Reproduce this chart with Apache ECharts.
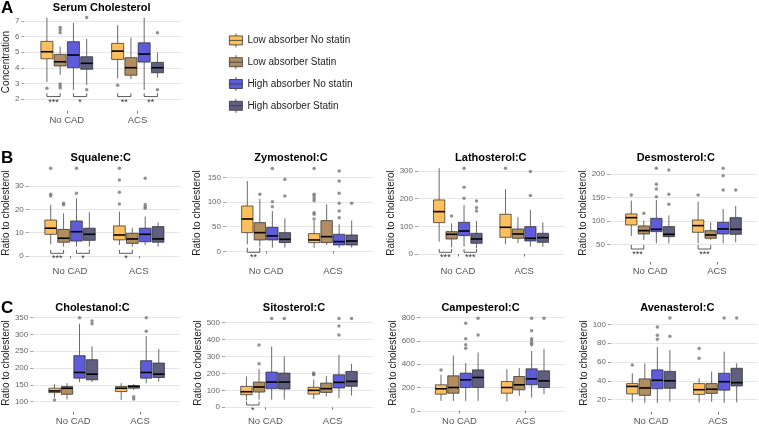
<!DOCTYPE html>
<html>
<head>
<meta charset="utf-8">
<script src="https://cdn.jsdelivr.net/npm/echarts@6/dist/echarts.min.js"></script>
<style>
  html, body { margin: 0; padding: 0; background: #fff; }
  #chart { width: 759px; height: 426px; }
</style>
</head>
<body>
<div id="chart"></div>
<script>
// ---- data ----
const groups = ['No CAD', 'ACS'];
const subgroups = ['Low absorber No statin', 'Low absorber Statin', 'High absorber No statin', 'High absorber Statin'];

// box stats: [lower whisker, Q1, median, Q3, upper whisker]
// first 4 rows = No CAD, last 4 rows = ACS (subgroup order as above)
const serumBox = [
  [3.1, 4.58, 5.03, 5.69, 7.21], [3.55, 4.12, 4.39, 4.86, 5.35], [2.6, 4.01, 4.82, 5.67, 6.87], [2.9, 3.91, 4.29, 4.71, 5.85],
  [3.33, 4.54, 5.07, 5.56, 6.72], [3.29, 3.53, 4.01, 4.65, 5.94], [2.6, 4.37, 4.88, 5.6, 7.21], [3.38, 3.69, 4.01, 4.35, 4.97]
];
// outliers: [group, subgroup, value]
const serumOut = [[0,0,2.7],[0,1,6.58],[0,1,6.41],[0,1,6.24],[0,1,2.97],[0,1,2.85],[0,1,2.72],[0,3,7.21],[0,3,2.6],[1,0,2.89],[1,3,6.24],[1,3,2.6]];
const serumTicks = [2, 3, 4, 5, 6, 7];
// significance: [group, pair (0 = low absorber, 1 = high absorber), label]
const serumSig = [[0,0,'***'],[0,1,'*'],[1,0,'**'],[1,1,'**']];

const squaleneBox = [
  [5.0, 9.3, 11.9, 15.4, 21.9], [4.0, 5.9, 7.6, 11.4, 18.3], [4.0, 6.4, 10.4, 15.0, 24.7], [4.0, 6.7, 9.3, 11.9, 18.7],
  [4.7, 6.9, 9.0, 12.9, 19.0], [4.0, 5.4, 7.3, 9.7, 12.1], [4.7, 6.1, 9.3, 11.9, 16.9], [4.0, 5.9, 7.3, 12.6, 14.4]
];
const squaleneOut = [[0,0,26.4],[0,0,25.7],[0,0,37.6],[0,1,22.6],[0,1,21.9],[0,2,26.9],[0,2,37.6],[1,0,37.6],[1,0,32.6],[1,0,27.3],[1,0,22.3],[1,2,33.3],[1,2,22.1],[1,2,21.1],[1,2,20.4]];
const squaleneTicks = [0, 10, 20, 30];
const squaleneSig = [[0,0,'***'],[0,1,'*'],[1,0,'*']];

const zymostenolBox = [
  [14.2, 37.8, 65.5, 91.9, 142.6], [9.5, 23.0, 37.8, 58.1, 106], [7.4, 23, 31.1, 48.6, 81.8], [7.4, 17.6, 24.3, 37.8, 66.9],
  [7.4, 17.6, 23, 35.8, 61.5], [12.8, 17.6, 29.7, 62.2, 95.3], [7.4, 12.8, 19.6, 34.5, 54.7], [7.4, 12.8, 20.9, 33.1, 62.2]
];
const zymostenolOut = [[0,1,115.5],[0,2,168],[0,2,100.7],[0,2,90.5],[0,3,146],[0,3,112],[1,0,168],[1,0,115.5],[1,0,112],[1,0,107],[1,0,102.7],[1,0,78.4],[1,0,75],[1,0,65.5],[1,2,162.8],[1,2,142.6],[1,2,117.6],[1,2,97.3],[1,2,81.8],[1,2,68.2],[1,3,97.3]];
const zymostenolTicks = [0, 50, 100, 150];
const zymostenolSig = [[0,0,'**']];

const lathosterolBox = [
  [44.6, 113.3, 153, 195.2, 309.7], [24.1, 54.2, 71.1, 80.7, 110.9], [26.5, 66.3, 83.1, 114.5, 177.1], [20.5, 38.6, 54.2, 74.7, 119.3],
  [35, 60.3, 96.4, 143.4, 233.8], [38.6, 56.6, 72.3, 90.4, 132.6], [26.5, 47, 56.6, 98.8, 159.1], [26.5, 42.2, 59, 74.7, 114.5]
];
const lathosterolOut = [[0,1,137.4],[0,2,309.7],[0,2,241],[0,2,201.2],[0,3,191.6],[0,3,167.5],[0,3,155.4],[1,0,309.7],[1,2,297.6],[1,2,210.9]];
const lathosterolTicks = [0, 100, 200, 300];
const lathosterolSig = [[0,0,'***'],[0,1,'***']];

const desmosterolBox = [
  [67.9, 91.4, 107.1, 115, 143.6], [59.3, 72.1, 79.3, 89.3, 100.7], [52.1, 77.1, 82.1, 105.7, 145], [52.1, 66.4, 71.4, 87.9, 112],
  [52.1, 75.7, 90, 102.1, 141.4], [59.3, 62.9, 70, 79.3, 97.1], [52.1, 72.1, 82.9, 97.1, 125.7], [54.3, 71.4, 82.1, 107.1, 132.1]
];
const desmosterolOut = [[0,0,155.7],[0,1,116.4],[0,2,212.9],[0,2,178.6],[0,2,168.6],[0,2,152],[0,3,209.3],[0,3,157.1],[0,3,135.7],[1,0,155.7],[1,2,212.9],[1,2,197.1],[1,2,166.4],[1,3,166.4]];
const desmosterolTicks = [50, 100, 150, 200];
const desmosterolSig = [[0,0,'***'],[1,0,'***']];

const cholestanolBox = [
  [112, 127, 132, 140, 152], [107, 122, 140, 145, 155], [158, 170, 187, 237, 332], [158, 165, 182, 225, 265],
  [105, 130, 140, 145, 155], [135, 140, 145, 148, 153], [155, 170, 187, 222, 295], [160, 172, 182, 215, 257]
];
const cholestanolOut = [[0,0,105],[0,2,350],[0,3,340],[0,3,332],[1,1,115],[1,1,108],[1,2,350],[1,2,310]];
const cholestanolTicks = [100, 150, 200, 250, 300, 350];
const cholestanolSig = [];

const sitosterolBox = [
  [40, 74.5, 92, 123.5, 182], [45, 90, 120, 149, 227], [45, 110, 149, 208, 359], [45, 108, 149, 202, 300],
  [49, 78, 100, 118, 163], [65, 88, 110, 143, 186], [55, 114, 147, 192, 310], [69, 124, 153, 212, 257]
];
const sitosterolOut = [[0,1,368],[0,1,257],[0,2,525],[0,3,525],[1,0,202],[1,0,196],[1,0,192],[1,2,525],[1,2,480],[1,2,427],[1,3,525]];
const sitosterolTicks = [0, 100, 200, 300, 400, 500];
const sitosterolSig = [[0,0,'*']];

const campesterolBox = [
  [85, 143, 189, 223, 309], [85, 151, 200, 300, 474], [85, 200, 266, 323, 409], [85, 200, 286, 351, 500],
  [80, 151, 200, 251, 357], [129, 180, 223, 294, 366], [114, 223, 274, 360, 514], [143, 200, 257, 343, 531]
];
const campesterolOut = [[0,0,351],[0,2,751],[0,2,617],[0,2,566],[0,2,537],[0,3,794],[0,3,651],[1,2,794],[1,2,686],[1,2,617],[1,2,600],[1,2,580],[1,2,566],[1,3,794]];
const campesterolTicks = [0, 200, 400, 600, 800];
const campesterolSig = [];

const avenasterolBox = [
  [17, 26, 34, 37, 48], [16.5, 24.5, 32.4, 42, 58.6], [16.5, 31.5, 40.5, 51.6, 76], [18, 32, 40, 50, 72.6],
  [17, 25.5, 30.5, 37, 42.8], [17.6, 26.6, 31, 37, 49.8], [16.5, 30, 39, 48, 70.9], [17, 34.5, 38, 53.3, 58.6]
];
const avenasterolOut = [[0,0,56.8],[0,2,97.2],[0,2,88.4],[0,2,84.2],[0,3,106.7],[0,3,87.4],[1,0,74.4],[1,0,63.9],[1,2,106.7],[1,3,106.7]];
const avenasterolTicks = [20, 40, 60, 80, 100];
const avenasterolSig = [];

const panels = [
  {title: 'Serum Cholesterol', yName: 'Concentration', box: serumBox, out: serumOut, ticks: serumTicks, sig: serumSig},
  {title: 'Squalene:C', yName: 'Ratio to cholesterol', box: squaleneBox, out: squaleneOut, ticks: squaleneTicks, sig: squaleneSig},
  {title: 'Zymostenol:C', yName: 'Ratio to cholesterol', box: zymostenolBox, out: zymostenolOut, ticks: zymostenolTicks, sig: zymostenolSig},
  {title: 'Lathosterol:C', yName: 'Ratio to cholesterol', box: lathosterolBox, out: lathosterolOut, ticks: lathosterolTicks, sig: lathosterolSig},
  {title: 'Desmosterol:C', yName: 'Ratio to cholesterol', box: desmosterolBox, out: desmosterolOut, ticks: desmosterolTicks, sig: desmosterolSig},
  {title: 'Cholestanol:C', yName: 'Ratio to cholesterol', box: cholestanolBox, out: cholestanolOut, ticks: cholestanolTicks, sig: cholestanolSig},
  {title: 'Sitosterol:C', yName: 'Ratio to cholesterol', box: sitosterolBox, out: sitosterolOut, ticks: sitosterolTicks, sig: sitosterolSig},
  {title: 'Campesterol:C', yName: 'Ratio to cholesterol', box: campesterolBox, out: campesterolOut, ticks: campesterolTicks, sig: campesterolSig},
  {title: 'Avenasterol:C', yName: 'Ratio to cholesterol', box: avenasterolBox, out: avenasterolOut, ticks: avenasterolTicks, sig: avenasterolSig}
];

// ---- layout / style ----
const layout = [
  {l: 24,  r: 180, t: 13,  b: 111, min: 1.25,  max: 7.5, gap: 10,   tx: 101.7, ty: 8,   sigY: [2.38, 2.17]},
  {l: 26,  r: 180, t: 164, b: 262, min: -2.57, max: 39.4, gap: 13.5, tx: 100.8, ty: 158, sigY: [2.6, 1.15]},
  {l: 226, r: 373, t: 164, b: 262, min: -21.7, max: 177, gap: 24,   tx: 291,   ty: 158, sigY: [7.3, -2]},
  {l: 418, r: 564, t: 164, b: 262, min: -28.9, max: 325, gap: 19,   tx: 490.8, ty: 158, sigY: [18, 6.1]},
  {l: 610, r: 757, t: 164, b: 262, min: 12.1,  max: 222, gap: 17,   tx: 675.8, ty: 158, sigY: [48.5, 39.9]},
  {l: 33,  r: 180, t: 314, b: 412, min: 69.3,  max: 361, gap: 20.7, tx: 92.5,  ty: 308, sigY: [0, 0]},
  {l: 225, r: 373, t: 314, b: 412, min: -27.8, max: 551, gap: 22,   tx: 294,   ty: 308, sigY: [33, 13.6]},
  {l: 420, r: 565, t: 314, b: 412, min: -10,   max: 830, gap: 19.5, tx: 480.5, ty: 308, sigY: [0, 0]},
  {l: 611, r: 758, t: 314, b: 412, min: 6.8,   max: 111, gap: 20.5, tx: 677.3, ty: 308, sigY: [0, 0]}
];
const fills = ['#FEC05F', '#B18D5F', '#5E5CD8', '#5F5F82'];
const FONT = 'Liberation Sans';
const DODGE = 0.1875;
const HALF = 0.085;

function xPos(g, s) { return g + 1 + (s - 1.5) * DODGE; }

function boxRender(params, api) {
  const x = xPos(api.value(0), api.value(1));
  const lo = api.value(2), q1 = api.value(3), md = api.value(4), q3 = api.value(5), hi = api.value(6);
  const tl = api.coord([x - HALF, q3]);
  const br = api.coord([x + HALF, q1]);
  const m = api.coord([x, md]);
  const top = api.coord([x, hi]);
  const bot = api.coord([x, lo]);
  const wStyle = {stroke: '#444', lineWidth: 0.8};
  return {
    type: 'group',
    children: [
      {type: 'line', shape: {x1: top[0], y1: top[1], x2: top[0], y2: tl[1]}, style: wStyle},
      {type: 'line', shape: {x1: bot[0], y1: br[1], x2: bot[0], y2: bot[1]}, style: wStyle},
      {type: 'rect', shape: {x: tl[0], y: tl[1], width: br[0] - tl[0], height: br[1] - tl[1]},
        style: {fill: api.visual('color'), stroke: 'rgba(40,40,40,0.8)', lineWidth: 0.9}},
      {type: 'line', shape: {x1: tl[0], y1: m[1], x2: br[0], y2: m[1]}, style: {stroke: '#000', lineWidth: 1.6}}
    ]
  };
}

function sigRender(panel, L) {
  return function (params, api) {
    const g = api.value(0), p = api.value(1);
    const x1 = xPos(g, 2 * p), x2 = xPos(g, 2 * p + 1);
    const a = api.coord([x1, L.sigY[0]]), b = api.coord([x1, L.sigY[1]]);
    const c = api.coord([x2, L.sigY[1]]), d = api.coord([x2, L.sigY[0]]);
    return {
      type: 'group',
      children: [
        {type: 'polyline', shape: {points: [a, b, c, d]}, style: {stroke: '#333', lineWidth: 0.8, fill: null}},
        {type: 'text', x: (b[0] + c[0]) / 2, y: b[1] + 1,
          style: {text: panel.sig[params.dataIndex][2], fontSize: 9, fontFamily: FONT, fill: '#333', align: 'center', verticalAlign: 'top'}}
      ]
    };
  };
}

const grid = [], xAxis = [], yAxis = [], series = [], graphic = [];

panels.forEach(function (panel, i) {
  const L = layout[i];
  grid.push({left: L.l, top: L.t, width: L.r - L.l, height: L.b - L.t});
  xAxis.push({
    gridIndex: i, type: 'value', min: 0.4, max: 2.6,
    axisLine: {show: false}, splitLine: {show: false},
    axisTick: {show: true, customValues: [1, 2], length: 2.5, lineStyle: {color: '#555', width: 0.8}},
    axisLabel: {customValues: [1, 2], formatter: function (v) { return groups[Math.round(v) - 1]; },
      fontSize: 9.5, color: '#555', margin: 4, fontFamily: FONT}
  });
  yAxis.push({
    gridIndex: i, type: 'value', min: L.min, max: L.max,
    name: panel.yName, nameLocation: 'middle', nameGap: L.gap,
    nameTextStyle: {fontSize: 10, color: '#222', fontFamily: FONT},
    axisLine: {show: false},
    axisTick: {show: true, customValues: panel.ticks, length: 3, lineStyle: {color: '#888', width: 0.8}},
    axisLabel: {customValues: panel.ticks, fontSize: 8, color: '#666', margin: 5, fontFamily: FONT},
    splitLine: {show: true, lineStyle: {color: '#e6e6e6', width: 1}}
  });
  subgroups.forEach(function (name, s) {
    series.push({
      name: name, type: 'custom', xAxisIndex: i, yAxisIndex: i,
      itemStyle: {color: fills[s]}, renderItem: boxRender, silent: true,
      data: [[0, s].concat(panel.box[s]), [1, s].concat(panel.box[4 + s])]
    });
  });
  series.push({
    name: 'outliers', type: 'scatter', xAxisIndex: i, yAxisIndex: i, silent: true,
    symbolSize: 3.5, itemStyle: {color: '#777'}, z: 5,
    data: panel.out.map(function (o) { return [xPos(o[0], o[1]), o[2]]; })
  });
  if (panel.sig.length) {
    series.push({
      name: 'sig', type: 'custom', xAxisIndex: i, yAxisIndex: i, silent: true,
      renderItem: sigRender(panel, L),
      data: panel.sig.map(function (d) { return [d[0], d[1]]; })
    });
  }
  graphic.push({type: 'text', x: L.tx, y: L.ty,
    style: {text: panel.title, fontSize: 11, fontWeight: 'bold', fontFamily: FONT, fill: '#000', align: 'center', verticalAlign: 'middle'}});
});

[['A', 8], ['B', 158], ['C', 308]].forEach(function (t) {
  graphic.push({type: 'text', x: 1, y: t[1],
    style: {text: t[0], fontSize: 17, fontWeight: 'bold', fontFamily: FONT, fill: '#000', align: 'left', verticalAlign: 'middle'}});
});

const boxIcon = 'path://M6.5,0L6.5,2.5M0,2.5L13,2.5L13,11.5L0,11.5ZM0,7L13,7M6.5,11.5L6.5,14';

const chart = echarts.init(document.getElementById('chart'));
chart.setOption({
  animation: false,
  backgroundColor: '#fff',
  textStyle: {fontFamily: FONT},
  legend: {
    left: 224, top: 28, orient: 'vertical', selectedMode: false,
    itemWidth: 13, itemHeight: 14, itemGap: 7,
    data: subgroups.map(function (n) { return {name: n, icon: boxIcon}; }),
    itemStyle: {borderColor: '#333', borderWidth: 0.8},
    textStyle: {fontSize: 10, color: '#222', fontFamily: FONT}
  },
  grid: grid,
  xAxis: xAxis,
  yAxis: yAxis,
  series: series,
  graphic: graphic
});
</script>
</body>
</html>
